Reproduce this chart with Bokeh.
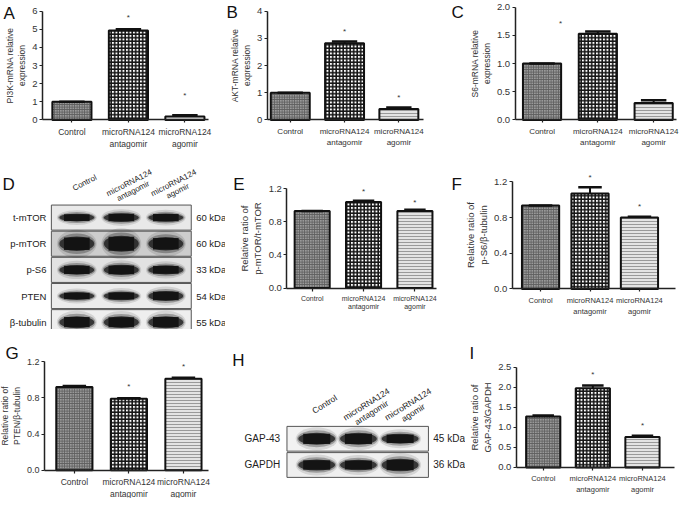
import math
from bokeh.plotting import figure
from bokeh.layouts import column, row
from bokeh.models import Range1d, FixedTicker, ColumnDataSource, Label, NumeralTickFormatter
from bokeh.embed import file_html
from bokeh.resources import INLINE
from bokeh.core.properties import value

FONT = "Liberation Sans"

# ---------------- data ----------------
groups = ["Control", "microRNA124\nantagomir", "microRNA124\nagomir"]

pi3k_mean = [1.00, 4.93, 0.19]
pi3k_sem = [0.00, 0.07, 0.06]
pi3k_star_x = [1, 2]
pi3k_star_y = [5.66, 1.32]

akt_mean = [1.00, 2.82, 0.40]
akt_sem = [0.00, 0.06, 0.06]
akt_star_x = [1, 2]
akt_star_y = [3.26, 0.82]

s6_mean = [1.00, 1.53, 0.30]
s6_sem = [0.00, 0.04, 0.05]
s6_star_x = [0.33]
s6_star_y = [1.72]

pmtor_mean = [0.93, 1.04, 0.93]
pmtor_sem = [0.00, 0.015, 0.015]
pmtor_star_x = [1, 2]
pmtor_star_y = [1.17, 1.03]

ps6_mean = [0.935, 1.07, 0.80]
ps6_sem = [0.00, 0.07, 0.01]
ps6_star_x = [1, 2]
ps6_star_y = [1.245, 0.92]

pten_mean = [0.92, 0.79, 1.01]
pten_sem = [0.01, 0.005, 0.01]
pten_star_x = [1, 2]
pten_star_y = [0.92, 1.145]

gap43_mean = [1.27, 1.98, 0.76]
gap43_sem = [0.03, 0.07, 0.03]
gap43_star_x = [1, 2]
gap43_star_y = [2.31, 1.06]

ticks_pi3k = [0, 1, 2, 3, 4, 5, 6]
ticks_akt = [0, 1, 2, 3, 4]
ticks_s6 = [0.0, 0.5, 1.0, 1.5, 2.0]
ticks_ratio = [0.0, 0.4, 0.8, 1.2]
ticks_gap43 = [0.0, 0.5, 1.0, 1.5, 2.0, 2.5]

# western blots (band thickness relative to row height)
blot_d_proteins = ["t-mTOR", "p-mTOR", "p-S6", "PTEN", "β-tubulin"]
blot_d_kda = ["60 kDa", "60 kDa", "33 kDa", "54 kDa", "55 kDa"]
blot_d_band = [[0.30, 0.34, 0.32],
               [0.56, 0.62, 0.52],
               [0.37, 0.39, 0.35],
               [0.30, 0.32, 0.38],
               [0.46, 0.45, 0.46]]
blot_h_proteins = ["GAP-43", "GAPDH"]
blot_h_kda = ["45 kDa", "36 kDa"]
blot_h_band = [[0.46, 0.46, 0.38],
               [0.42, 0.40, 0.48]]

# ---------------- styles / layout ----------------
SX = 684 / 700
SY = 498 / 514

BAR_FILL = ["#9a9a9a", "#ffffff", "#e4e4e4"]
BAR_HATCH = ["cross", "cross", "horizontal_line"]
BAR_HCOLOR = ["#5e5e5e", "#151515", "#9a9a9a"]
BAR_HSCALE = [2.5, 3.5, 3.0]
BAR_HWEIGHT = [1.0, 1.6, 1.0]

D_BG = ["#e9e9e9", "#cdcdcd", "#e2e2e2", "#ececec", "#eeeeee"]
H_BG = ["#f2f2f2", "#efefef"]

BAR_LAYOUT = {
    "A": dict(box=(0, 0, 230, 170), ax_l=43, ax_r=213, y0=123, ytop=11, ymax=6, c0=73, c2=188.5,
              bw=40, cap=26, letter=(3, 7), fmt="0", tfs=9.5, cfs=8.5, lfs=8.5),
    "B": dict(box=(230, 0, 460, 170), ax_l=273, ax_r=433, y0=123, ytop=11, ymax=4, c0=296.5, c2=408,
              bw=40, cap=26, letter=(231, 6), fmt="0", tfs=9.5, cfs=8, lfs=8.5),
    "C": dict(box=(460, 0, 700, 170), ax_l=527, ax_r=692, y0=123, ytop=7, ymax=2, c0=554.5, c2=668.5,
              bw=39, cap=26, letter=(462, 6), fmt="0.0", tfs=9.5, cfs=8, lfs=8.5),
    "E": dict(box=(230, 170, 460, 340), ax_l=293, ax_r=447, y0=297, ytop=194, ymax=1.2, c0=319, c2=424.5,
              bw=36, cap=22, letter=(238, 183), fmt="0.0", tfs=9.5, cfs=7, lfs=9.5),
    "F": dict(box=(460, 170, 700, 340), ax_l=524, ax_r=691, y0=298, ytop=187, ymax=1.2, c0=553, c2=654,
              bw=38, cap=24, letter=(462, 183), fmt="0.0", tfs=9.5, cfs=7.5, lfs=9.5),
    "G": dict(box=(0, 340, 230, 514), ax_l=45, ax_r=213, y0=485, ytop=373, ymax=1.2, c0=75.5, c2=187,
              bw=37, cap=24, letter=(5, 358), fmt="0.0", tfs=9, cfs=8.5, lfs=8.5),
    "I": dict(box=(476, 340, 700, 514), ax_l=528, ax_r=690, y0=482, ytop=379, ymax=2.5, c0=555.5, c2=657,
              bw=35, cap=22, letter=(480, 358), fmt="0.0", tfs=9.5, cfs=7.5, lfs=9.5),
}

BLOT_LAYOUT = {
    "D": dict(box=(0, 170, 230, 340), l0=78, l2=169, r0=224, rs=27.1, bx0=52, bx1=195, bh=26,
              lab_r=47, kda_l=200, hx=8, hy=188, ang=27, letter=(2, 183), fs=9.5, hfs=8, bandw=0.8),
    "H": dict(box=(230, 340, 476, 514), l0=323.5, l2=409, r0=452.5, rs=27, bx0=293, bx1=438, bh=25.5,
              lab_r=286, kda_l=443, hx=8, hy=417, ang=32, letter=(237, 365), fs=10, hfs=8.5, bandw=0.9),
}


def span(a, b, s):
    return round(b * s) - round(a * s)


def add_letter(p, L, letter):
    bx0, by0 = L["box"][0], L["box"][1]
    p.add_layout(Label(x=(L["letter"][0] - bx0) * SX, y=(L["letter"][1] - 3 - by0) * SY,
                       x_units="canvas", y_units="canvas", text=letter, text_font=FONT,
                       text_font_size="17px", text_baseline="top", text_align="left",
                       text_color="#111111"))


def base_fig(L, xr, yr):
    bx0, by0, bx1, by1 = L["box"]
    p = figure(width=span(bx0, bx1, SX), height=span(by0, by1, SY), x_range=xr, y_range=yr,
               title=None, output_backend="svg", toolbar_location=None, tools="",
               min_border=0, min_border_left=0, min_border_right=0, min_border_top=0, min_border_bottom=0)
    p.outline_line_color = None
    p.xgrid.visible = False
    p.ygrid.visible = False
    return p


def bar_panel(L, mean, sem, star_x, star_y, yticks, title, letter):
    bx0, by0, bx1, by1 = L["box"]
    uy = (L["y0"] - L["ytop"]) / L["ymax"]
    ux = (L["c2"] - L["c0"]) / 2.0
    p = base_fig(L, Range1d((bx0 - L["c0"]) / ux, (bx1 - L["c0"]) / ux),
                 Range1d((L["y0"] - by1) / uy, (L["y0"] - by0) / uy))
    x = list(range(len(mean)))
    src = ColumnDataSource(dict(x=x, top=mean, fill=BAR_FILL, hatch=BAR_HATCH, hcolor=BAR_HCOLOR,
                                hscale=BAR_HSCALE, hweight=BAR_HWEIGHT))
    p.vbar(x="x", top="top", bottom=0, width=L["bw"] / ux, source=src, fill_color="fill",
           hatch_pattern="hatch", hatch_color="hcolor", hatch_scale="hscale", hatch_weight="hweight",
           line_color="#111111", line_width=2)
    up = [m + s for m, s in zip(mean, sem)]
    cw = L["cap"] / ux / 2.0
    p.segment(x0=x, y0=mean, x1=x, y1=up, line_width=2, line_color="#111111")
    p.segment(x0=[xi - cw for xi in x], y0=up, x1=[xi + cw for xi in x], y1=up,
              line_width=2.5, line_color="#111111")
    p.text(x=star_x, y=star_y, text=["*"] * len(star_x), text_align="center", text_baseline="middle",
           text_font=value(FONT), text_font_size="8px", text_color="#333333")

    xl = (L["ax_l"] - L["c0"]) / ux
    xr = (L["ax_r"] - L["c0"]) / ux
    xa = p.xaxis[0]
    xa.ticker = FixedTicker(ticks=x)
    xa.major_label_overrides = {i: g for i, g in enumerate(groups)}
    xa.fixed_location = 0
    xa.bounds = (xl, xr)
    ya = p.yaxis[0]
    ya.ticker = FixedTicker(ticks=yticks)
    ya.formatter = NumeralTickFormatter(format=L["fmt"])
    ya.fixed_location = xl
    ya.bounds = (0, L["ymax"])
    ya.axis_label = title
    ya.axis_label_text_font = FONT
    ya.axis_label_text_font_style = "normal"
    ya.axis_label_text_font_size = "%spx" % L["lfs"]
    ya.axis_label_text_color = "#333333"
    ya.axis_label_standoff = 2
    for ax in (xa, ya):
        ax.axis_line_width = 1.5
        ax.axis_line_color = "#222222"
        ax.major_tick_in = 0
        ax.major_tick_out = 3
        ax.major_tick_line_width = 1.2
        ax.major_tick_line_color = "#222222"
        ax.minor_tick_line_color = None
        ax.major_label_text_font = FONT
        ax.major_label_text_color = "#333333"
    ya.major_label_standoff = 2
    ya.major_label_text_font_size = "%spx" % L["tfs"]
    xa.major_label_text_font_size = "%spx" % L["cfs"]
    xa.major_label_standoff = 4
    add_letter(p, L, letter)
    return p


def blot_panel(L, proteins, kda, bands, bgs, letter):
    bx0, by0, bx1, by1 = L["box"]
    u = (L["l2"] - L["l0"]) / 2.0
    v = L["rs"]
    p = base_fig(L, Range1d((bx0 - L["l0"]) / u, (bx1 - L["l0"]) / u),
                 Range1d(-(by1 - L["r0"]) / v, -(by0 - L["r0"]) / v))
    p.xaxis.visible = False
    p.yaxis.visible = False
    p.xaxis.fixed_location = 0
    p.yaxis.fixed_location = 0
    n = len(proteins)
    rows_y = [-i for i in range(n)]
    boxc = ((L["bx0"] + L["bx1"]) / 2.0 - L["l0"]) / u
    boxw = (L["bx1"] - L["bx0"]) / u
    p.rect(x=[boxc] * n, y=rows_y, width=boxw, height=L["bh"] / v, fill_color=bgs,
           line_color="#555555", line_width=1)
    bx, by, bt = [], [], []
    for i in range(n):
        for j in range(3):
            bx.append(j)
            by.append(-i)
            bt.append(bands[i][j])
    bw = L["bandw"]
    for fw, fh, a in ((1.12, 1.9, 0.12), (1.05, 1.4, 0.3), (0.98, 1.0, 0.75)):
        p.ellipse(x=bx, y=by, width=bw * fw, height=[t * fh for t in bt],
                  fill_color="#151515", fill_alpha=a, line_color=None)
    p.rect(x=bx, y=by, width=bw * 0.72, height=[t * 0.85 for t in bt],
           fill_color="#111111", fill_alpha=0.9, line_color=None)
    p.text(x=[(L["lab_r"] - L["l0"]) / u] * n, y=rows_y, text=proteins, text_align="right",
           text_baseline="middle", text_font=value(FONT), text_font_size="%spx" % L["fs"],
           text_color="#222222")
    p.text(x=[(L["kda_l"] - L["l0"]) / u] * n, y=rows_y, text=kda, text_align="left",
           text_baseline="middle", text_font=value(FONT), text_font_size="%spx" % L["fs"],
           text_color="#222222")
    ang = math.radians(L["ang"])
    lh = float(L["hfs"]) * 1.15
    hx = [j + L["hx"] / u for j in range(3)]
    hy = [-(L["hy"] - L["r0"]) / v] * 3
    first = [g.split("\n")[0] for g in groups]
    second = [g.split("\n")[1] if "\n" in g else "" for g in groups]
    common = dict(angle=ang, text_align="center", text_baseline="middle", text_font=value(FONT),
                  text_font_size="%spx" % L["hfs"], text_color="#222222")
    p.text(x=hx, y=hy, text=first, **common)
    p.text(x=hx, y=hy, text=second, x_offset=math.sin(ang) * lh, y_offset=math.cos(ang) * lh, **common)
    add_letter(p, L, letter)
    return p


pA = bar_panel(BAR_LAYOUT["A"], pi3k_mean, pi3k_sem, pi3k_star_x, pi3k_star_y, ticks_pi3k,
               "PI3K-mRNA relative\nexpression", "A")
pB = bar_panel(BAR_LAYOUT["B"], akt_mean, akt_sem, akt_star_x, akt_star_y, ticks_akt,
               "AKT-mRNA relative\nexpression", "B")
pC = bar_panel(BAR_LAYOUT["C"], s6_mean, s6_sem, s6_star_x, s6_star_y, ticks_s6,
               "S6-mRNA relative\nexpression", "C")
pD = blot_panel(BLOT_LAYOUT["D"], blot_d_proteins, blot_d_kda, blot_d_band, D_BG, "D")
pE = bar_panel(BAR_LAYOUT["E"], pmtor_mean, pmtor_sem, pmtor_star_x, pmtor_star_y, ticks_ratio,
               "Relative ratio of\np-mTOR/t-mTOR", "E")
pF = bar_panel(BAR_LAYOUT["F"], ps6_mean, ps6_sem, ps6_star_x, ps6_star_y, ticks_ratio,
               "Relative ratio of\np-S6/β-tubulin", "F")
pG = bar_panel(BAR_LAYOUT["G"], pten_mean, pten_sem, pten_star_x, pten_star_y, ticks_ratio,
               "Relative ratio of\nPTEN/β-tubulin", "G")
pH = blot_panel(BLOT_LAYOUT["H"], blot_h_proteins, blot_h_kda, blot_h_band, H_BG, "H")
pI = bar_panel(BAR_LAYOUT["I"], gap43_mean, gap43_sem, gap43_star_x, gap43_star_y, ticks_gap43,
               "Relative ratio of\nGAP-43/GAPDH", "I")

layout = column(row(pA, pB, pC, spacing=0), row(pD, pE, pF, spacing=0), row(pG, pH, pI, spacing=0),
                spacing=0)

open("out.html", "w").write(file_html(layout, INLINE))
